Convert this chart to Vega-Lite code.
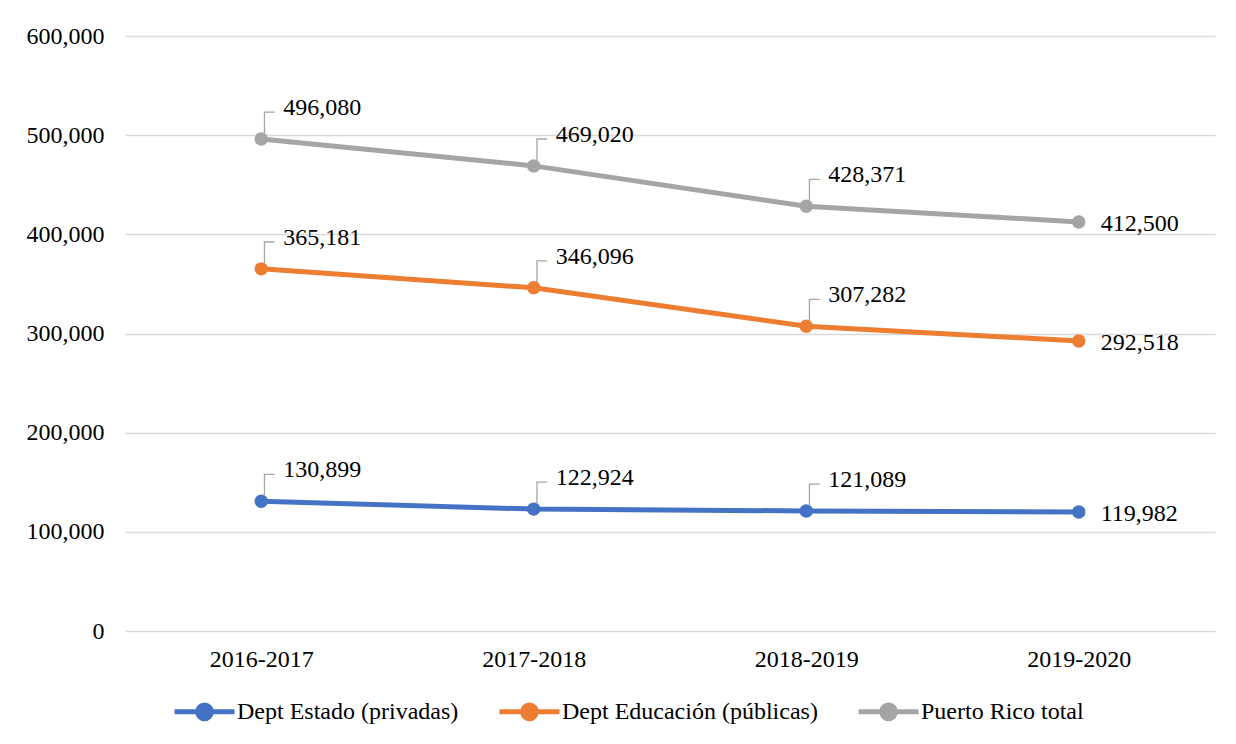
{
  "$schema": "https://vega.github.io/schema/vega-lite/v6.json",
  "width": 1090,
  "height": 595,
  "autosize": "none",
  "padding": {"left": 125, "top": 36, "right": 21, "bottom": 113},
  "background": "white",
  "config": {
    "view": {"stroke": null},
    "font": "Liberation Serif, Times New Roman, serif",
    "text": {"font": "Liberation Serif, Times New Roman, serif"},
    "axis": {"labelFont": "Liberation Serif, Times New Roman, serif", "labelFontSize": 24, "labelColor": "#000000"},
    "legend": {"labelFont": "Liberation Serif, Times New Roman, serif", "labelFontSize": 24, "labelColor": "#000000", "labelLimit": 0}
  },
  "data": {
    "values": [
      {"year": "2016-2017", "series": "Dept Estado (privadas)", "value": 130899},
      {"year": "2017-2018", "series": "Dept Estado (privadas)", "value": 122924},
      {"year": "2018-2019", "series": "Dept Estado (privadas)", "value": 121089},
      {"year": "2019-2020", "series": "Dept Estado (privadas)", "value": 119982},
      {"year": "2016-2017", "series": "Dept Educación (públicas)", "value": 365181},
      {"year": "2017-2018", "series": "Dept Educación (públicas)", "value": 346096},
      {"year": "2018-2019", "series": "Dept Educación (públicas)", "value": 307282},
      {"year": "2019-2020", "series": "Dept Educación (públicas)", "value": 292518},
      {"year": "2016-2017", "series": "Puerto Rico total", "value": 496080},
      {"year": "2017-2018", "series": "Puerto Rico total", "value": 469020},
      {"year": "2018-2019", "series": "Puerto Rico total", "value": 428371},
      {"year": "2019-2020", "series": "Puerto Rico total", "value": 412500}
    ]
  },
  "encoding": {
    "x": {
      "field": "year", "type": "ordinal", "title": null,
      "scale": {"type": "point", "padding": 0.5},
      "axis": {"labelAngle": 0, "domain": false, "ticks": false, "labelPadding": 16, "grid": false}
    },
    "y": {
      "field": "value", "type": "quantitative", "title": null,
      "scale": {"domain": [0, 600000]},
      "axis": {"format": ",.0f", "values": [0, 100000, 200000, 300000, 400000, 500000, 600000], "labelOverlap": false, "domain": false, "ticks": false, "labelPadding": 21, "gridColor": "#D9D9D9", "gridWidth": 1.3}
    }
  },
  "layer": [
    {
      "mark": {"type": "line", "strokeWidth": 5},
      "encoding": {
        "color": {
          "field": "series", "type": "nominal", "title": null,
          "sort": ["Dept Estado (privadas)", "Dept Educación (públicas)", "Puerto Rico total"],
          "scale": {"domain": ["Dept Estado (privadas)", "Dept Educación (públicas)", "Puerto Rico total"], "range": ["#4472C4", "#ED7D31", "#A5A5A5"]},
          "legend": {
            "orient": "none", "direction": "horizontal", "legendX": 47, "legendY": 643,
            "symbolType": "M-1,0 L-0.23,0 M0.23,0 L1,0 M0,-0.23 A0.23,0.23 0 1,1 0,0.23 A0.23,0.23 0 1,1 0,-0.23",
            "symbolSize": 3600, "symbolStrokeWidth": 5, "labelOffset": 0, "columnPadding": 30,
            "encode": {"symbols": {"update": {"fill": {"scale": "color", "field": "value"}, "stroke": {"scale": "color", "field": "value"}, "fillOpacity": {"value": 1}}}}
          }
        }
      }
    },
    {
      "mark": {"type": "point", "filled": true, "size": 180, "opacity": 1},
      "encoding": {"color": {"field": "series", "type": "nominal", "legend": null}}
    },
    {
      "transform": [{"filter": "datum.year != '2019-2020'"}],
      "mark": {"type": "point", "filled": false, "size": 4096, "strokeWidth": 1.3, "color": "#A6A6A6", "opacity": 1,
        "shape": "M0.1,-0.17 L0.1,-0.84 L0.42,-0.84"}
    },
    {
      "transform": [{"filter": "datum.year != '2019-2020'"}],
      "mark": {"type": "text", "align": "left", "baseline": "middle", "dx": 22, "dy": -31, "fontSize": 24, "color": "#000000", "font": "Liberation Serif, Times New Roman, serif"},
      "encoding": {"text": {"field": "value", "type": "quantitative", "format": ","}}
    },
    {
      "transform": [{"filter": "datum.year == '2019-2020'"}],
      "mark": {"type": "text", "align": "left", "baseline": "middle", "dx": 22, "dy": 2, "fontSize": 24, "color": "#000000", "font": "Liberation Serif, Times New Roman, serif"},
      "encoding": {"text": {"field": "value", "type": "quantitative", "format": ","}}
    }
  ]
}
